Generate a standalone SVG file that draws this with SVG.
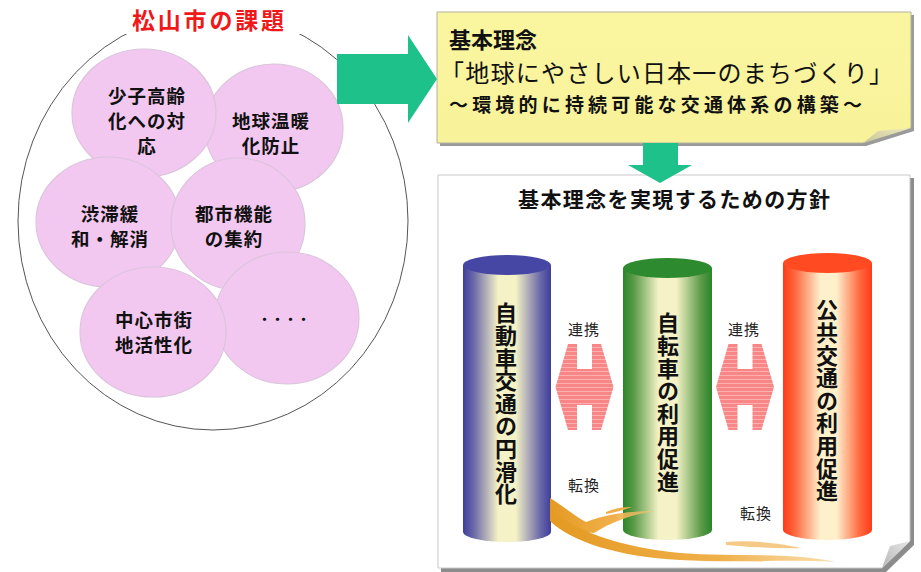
<svg xmlns="http://www.w3.org/2000/svg" width="921" height="572" viewBox="0 0 921 572">
<style>
  text { font-family: "Noto Sans CJK JP", "Noto Sans", sans-serif; dominant-baseline: central; fill: #111; }
  .ct { font-size: 18.5px; font-weight: bold; text-anchor: middle; letter-spacing: 1px; }
  .bubble { fill: #F2C8F0; stroke: #DCC4DC; stroke-width: 1.2; }
  .vt { font-size: 22px; font-weight: bold; writing-mode: vertical-rl; letter-spacing: 0.6px; }
  .lbl { font-size: 15px; text-anchor: middle; letter-spacing: 1px; fill: #222; }
  .garrow { fill: #1FC18B; }
  .pink { fill: url(#stripes); }
</style>
<defs>
  <linearGradient id="gBlue" x1="0" x2="1" y1="0" y2="0">
    <stop offset="0" stop-color="#3E3E9C"/>
    <stop offset="0.12" stop-color="#6A68A8"/>
    <stop offset="0.4" stop-color="#F4F2C6"/>
    <stop offset="0.6" stop-color="#F4F2C6"/>
    <stop offset="0.88" stop-color="#6A68A8"/>
    <stop offset="1" stop-color="#3E3E9C"/>
  </linearGradient>
  <linearGradient id="gGreen" x1="0" x2="1" y1="0" y2="0">
    <stop offset="0" stop-color="#2A862A"/>
    <stop offset="0.12" stop-color="#5A9A48"/>
    <stop offset="0.4" stop-color="#F4F2C6"/>
    <stop offset="0.6" stop-color="#F4F2C6"/>
    <stop offset="0.88" stop-color="#5A9A48"/>
    <stop offset="1" stop-color="#2A862A"/>
  </linearGradient>
  <linearGradient id="gRed" x1="0" x2="1" y1="0" y2="0">
    <stop offset="0" stop-color="#FF3A18"/>
    <stop offset="0.14" stop-color="#FF6A40"/>
    <stop offset="0.42" stop-color="#FFF0CC"/>
    <stop offset="0.6" stop-color="#FFF0CC"/>
    <stop offset="0.86" stop-color="#FF6A40"/>
    <stop offset="1" stop-color="#FF3A18"/>
  </linearGradient>
  <linearGradient id="gYellow" x1="0" x2="0" y1="0" y2="1">
    <stop offset="0" stop-color="#FAF6A0"/>
    <stop offset="1" stop-color="#F8F29A"/>
  </linearGradient>
  <linearGradient id="gOrange" x1="0" x2="1" y1="0" y2="0">
    <stop offset="0" stop-color="#E49A22"/>
    <stop offset="0.6" stop-color="#F0B04A"/>
    <stop offset="1" stop-color="#F6C878" stop-opacity="0.6"/>
  </linearGradient>
  <linearGradient id="gFlap" x1="0" x2="1" y1="1" y2="0">
    <stop offset="0" stop-color="#B8B8B8"/>
    <stop offset="1" stop-color="#E6E6E6"/>
  </linearGradient>
  <linearGradient id="gFlapY" x1="0" x2="1" y1="1" y2="0">
    <stop offset="0" stop-color="#C8C49A"/>
    <stop offset="1" stop-color="#EEEABC"/>
  </linearGradient>
  <pattern id="stripes" width="8" height="4" patternUnits="userSpaceOnUse">
    <rect width="8" height="4" fill="#F88686"/>
    <rect y="3" width="8" height="1" fill="#FBB0B0"/>
  </pattern>
</defs>

<!-- Left panel -->
<g id="issues-frame">
  <ellipse cx="213" cy="221" rx="195" ry="209" fill="#FFFFFF" stroke="#555" stroke-width="1"/>
  <rect x="116" y="4" width="188" height="30" fill="#FFFFFF"/>
  <text x="208" y="19" text-anchor="middle" font-size="23" font-weight="bold" style="fill:#F01818" textLength="152" lengthAdjust="spacing">松山市の課題</text>
</g>

<g id="issue-warming">
  <ellipse class="bubble" cx="274" cy="128" rx="69" ry="64"/>
  <text class="ct"><tspan x="271" y="120">地球温暖</tspan><tspan x="271" y="145">化防止</tspan></text>
</g>
<g id="issue-aging">
  <ellipse class="bubble" cx="144" cy="113" rx="72" ry="64"/>
  <text class="ct"><tspan x="147" y="95">少子高齢</tspan><tspan x="147" y="120">化への対</tspan><tspan x="147" y="145">応</tspan></text>
</g>
<g id="issue-congestion">
  <ellipse class="bubble" cx="108" cy="222" rx="72" ry="65"/>
  <text class="ct"><tspan x="110" y="213">渋滞緩</tspan><tspan x="110" y="238">和・解消</tspan></text>
</g>
<g id="issue-compact">
  <ellipse class="bubble" cx="238" cy="224" rx="67" ry="66"/>
  <text class="ct"><tspan x="234" y="213">都市機能</tspan><tspan x="234" y="238">の集約</tspan></text>
</g>
<g id="issue-etc">
  <ellipse class="bubble" cx="287" cy="318" rx="72" ry="66"/>
  <text class="ct" x="284" y="318" style="font-size:13px;letter-spacing:0">・・・・</text>
</g>
<g id="issue-downtown">
  <ellipse class="bubble" cx="153" cy="332" rx="73" ry="65"/>
  <text class="ct"><tspan x="154" y="319">中心市街</tspan><tspan x="154" y="344">地活性化</tspan></text>
</g>

<!-- Vision box -->
<g id="vision">
  <path d="M440,15 L914,15 L914,131 L866,146 L440,146 Z" fill="#9A9A9A"/>
  <path d="M437,12 L911,12 L911,128 L863,143 L437,143 Z" fill="url(#gYellow)" stroke="#B0B0A0" stroke-width="1"/>
  <path d="M863,143 L911,128 L878,131 Z" fill="url(#gFlapY)"/>
  <text x="449" y="38" font-size="22" font-weight="bold">基本理念</text>
  <text x="440" y="71" font-size="24" textLength="453" lengthAdjust="spacing">「地球にやさしい日本一のまちづくり」</text>
  <text x="449" y="103" font-size="19" font-weight="bold" textLength="413" lengthAdjust="spacing">～環境的に持続可能な交通体系の構築～</text>
</g>

<!-- Policy box -->
<g id="policy">
  <path d="M441,178 L914,178 L914,545 L886,572 L441,572 Z" fill="#8C8C8C"/>
  <path d="M438,175 L910,175 L910,541 L882,568 L438,568 Z" fill="#FFFFFF" stroke="#C8C8C8" stroke-width="1"/>
  <path d="M882,568 L910,541 L890,546 Z" fill="url(#gFlap)"/>
  <text x="674" y="198" font-size="21" font-weight="bold" text-anchor="middle" textLength="312" lengthAdjust="spacing">基本理念を実現するための方針</text>
</g>

<g id="cyl-car">
  <path d="M463,265 L551,265 L551,532 A44,10 0 0 1 463,532 Z" fill="url(#gBlue)"/>
  <ellipse cx="507" cy="265" rx="44" ry="10" fill="#4646A4"/>
  <text class="vt" x="506" y="302">自動車交通の円滑化</text>
</g>

<g id="cyl-bicycle">
  <path d="M623,268 L712,268 L712,530 A44.5,10 0 0 1 623,530 Z" fill="url(#gGreen)"/>
  <ellipse cx="667.5" cy="268" rx="44.5" ry="10" fill="#2E8A2E"/>
  <text class="vt" x="668" y="312">自転車の利用促進</text>
</g>

<g id="cyl-transit">
  <path d="M783,263 L872,263 L872,530 A44.5,10 0 0 1 783,530 Z" fill="url(#gRed)"/>
  <ellipse cx="827.5" cy="263" rx="44.5" ry="10" fill="#FF4A22"/>
  <text class="vt" x="827" y="299">公共交通の利用促進</text>
</g>

<!-- Connectors -->
<g id="connectors">
  <polygon class="garrow" points="337,54 408,54 408,35 437,79 408,123 408,104 337,104"/>
  <polygon class="garrow" points="643,143 678,143 678,165 692,165 660,183 628,165 643,165"/>
  <polygon class="pink" points="555.5,387 568,344 577,344 577,369 592,369 592,344 601,344 613.5,387 601,430 592,430 592,405 577,405 577,430 568,430"/>
  <polygon class="pink" points="716,387 728.5,344 737.5,344 737.5,369 752.5,369 752.5,344 761.5,344 774,387 761.5,430 752.5,430 752.5,405 737.5,405 737.5,430 728.5,430"/>
  <text class="lbl" x="584" y="328">連携</text>
  <text class="lbl" x="744" y="328">連携</text>
  <text class="lbl" x="584" y="484">転換</text>
  <text class="lbl" x="756" y="512">転換</text>
  <path d="M550,498 C562,505 574,516 586,522 C602,516 622,511 656,511 C628,515 608,524 594,533 C574,532 560,522 550,513 Z" fill="url(#gOrange)"/>
  <path d="M606,512 C615,508 624,507 632,507 C624,510 616,512 606,514 Z" fill="#EFAE48"/>
  <path d="M550,508 C572,530 618,547 680,553 C732,557 790,552 836,562 C790,559 732,563 680,560 C618,557 570,541 550,521 Z" fill="url(#gOrange)"/>
  <path d="M726,542 C752,540 778,543 802,548 C778,549 752,547 726,545 Z" fill="#F2BC68" fill-opacity="0.8"/>
</g>
</svg>
